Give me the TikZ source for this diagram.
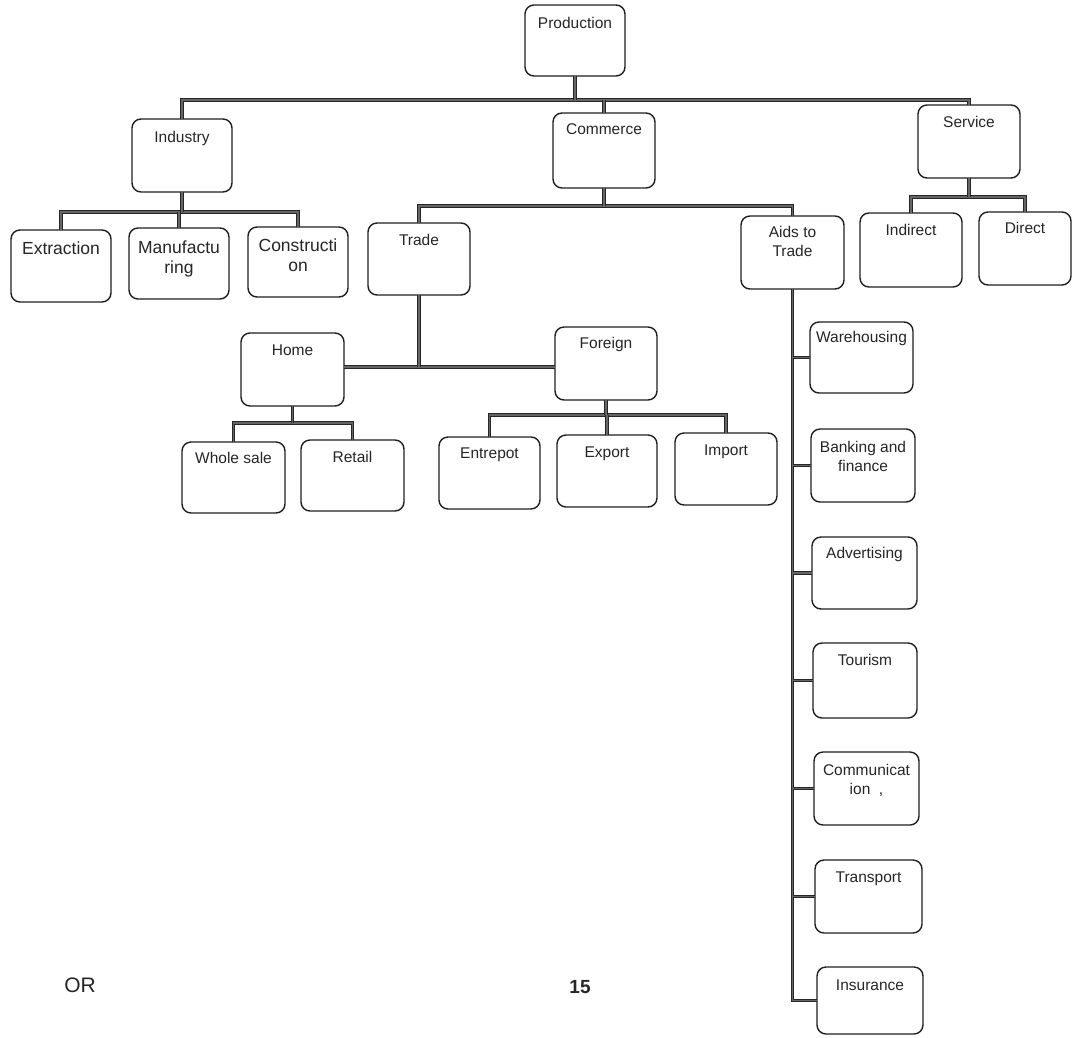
\documentclass[tikz,border=0pt]{standalone}
\usepackage{fontspec}
\setmainfont{Liberation Sans}
\tikzset{
  box/.style={draw=black!88, line width=1.4pt, rounded corners=9pt, inner sep=0pt, outer sep=0pt, fill=white},
  txt/.style={anchor=north, inner sep=0pt, align=center, text=black!85, font=\fontsize{15.5}{19}\selectfont},
  bigtxt/.style={font=\fontsize{17.5}{20}\selectfont},
  conn/.style={draw=black!85, line width=1.3pt, double=black!60, double distance=1.2pt},
}
\newcommand\mybox[8][]{%
  \node[box, minimum width={#5-#3}, minimum height={#6-#4}] (#2) at ({(#3+#5)/2},{(#4+#6)/2}) {};
  \node[txt,#1] (#2-t) at ({(#3+#5)/2},{#7-5.5}) {\vphantom{A}#8};
}
\begin{document}
\begin{tikzpicture}[x=1pt,y=-1pt]
\useasboundingbox[fill=white] (0,0) rectangle (1073,1037);
\coordinate (b1) at (575,100);
\coordinate (b2) at (180,212);
\coordinate (b3) at (604,206);
\coordinate (b4) at (969,197);
\coordinate (b5) at (419,367);
\coordinate (b6) at (292,423);
\coordinate (b7) at (606,415);
% boxes
\mybox{prod}{525}{5}{625}{76}{23}{Production}
\mybox{ind}{132}{119}{232}{192}{137}{Industry}
\mybox{com}{553}{113}{655}{188}{129}{Commerce}
\mybox{ser}{918}{105}{1020}{178}{122}{Service}
\mybox[bigtxt]{ext}{11}{230}{111}{302}{247}{Extraction}
\mybox[bigtxt]{man}{129}{228}{229}{299}{246}{Manufactu\\ring}
\mybox[bigtxt]{con}{248}{227}{348}{297}{244}{Constructi\\on}
\mybox{tra}{368}{223}{470}{295}{240}{Trade}
\mybox{aid}{741}{216}{844}{289}{232}{Aids to\\Trade}
\mybox{indi}{860}{213}{962}{287}{230}{Indirect}
\mybox{dir}{979}{212}{1071}{285}{228}{Direct}
\mybox{home}{241}{333}{344}{406}{350}{Home}
\mybox{for}{555}{327}{657}{400}{343}{Foreign}
\mybox{whs}{182}{442}{285}{513}{458}{Whole sale}
\mybox{ret}{301}{440}{404}{511}{457}{Retail}
\mybox{ent}{439}{437}{540}{509}{453}{Entrepot}
\mybox{exp}{557}{435}{657}{507}{452}{Export}
\mybox{imp}{675}{433}{777}{505}{450}{Import}
\mybox{war}{810}{322}{913}{393}{337}{Warehousing}
\mybox{ban}{811}{429}{915}{502}{447}{Banking and\\finance}
\mybox{adv}{812}{537}{917}{609}{553}{Advertising}
\mybox{tou}{813}{643}{917}{718}{660}{Tourism}
\mybox{comm}{814}{752}{919}{825}{770}{Communicat\\ion\ \ ,}
\mybox{tsp}{815}{860}{922}{933}{877}{Transport}
\mybox{ins}{817}{967}{923}{1034}{985}{Insurance}
% connectors
\draw[conn] (ind.north) |- (b1) -| (ser.north);
\draw[conn] (prod.south) -- (prod.south |- b1);
\draw[conn] (com.north) -- (com.north |- b1);
\draw[conn] (ext.north) |- (b2) -| (con.north);
\draw[conn] (ind.south) -- (ind.south |- b2);
\draw[conn] (man.north) -- (man.north |- b2);
\draw[conn] (tra.north) |- (b3) -| (aid.north);
\draw[conn] (com.south) -- (com.south |- b3);
\draw[conn] (indi.north) |- (b4) -| (dir.north);
\draw[conn] (ser.south) -- (ser.south |- b4);
\draw[conn] (home.east |- b5) -- (for.west |- b5);
\draw[conn] (tra.south) -- (tra.south |- b5);
\draw[conn] (whs.north) |- (b6) -| (ret.north);
\draw[conn] (home.south) -- (home.south |- b6);
\draw[conn] (ent.north) |- (b7) -| (imp.north);
\draw[conn] (for.south) -- (for.south |- b7);
\draw[conn] (exp.north) -- (exp.north |- b7);
\draw[conn] (aid.south) |- (ins.west);
\foreach \n in {war,ban,adv,tou,comm,tsp} \draw[conn] (\n.west) -- (\n.west -| aid.south);
% page texts
\node[anchor=center, inner sep=0pt, text=black!85, font=\fontsize{21}{24}\selectfont] (or) at (80,985) {OR};
\node[anchor=center, inner sep=0pt, text=black!85, font=\bfseries\fontsize{19}{22}\selectfont] (pg) at (580,987) {15};
\end{tikzpicture}
\end{document}
